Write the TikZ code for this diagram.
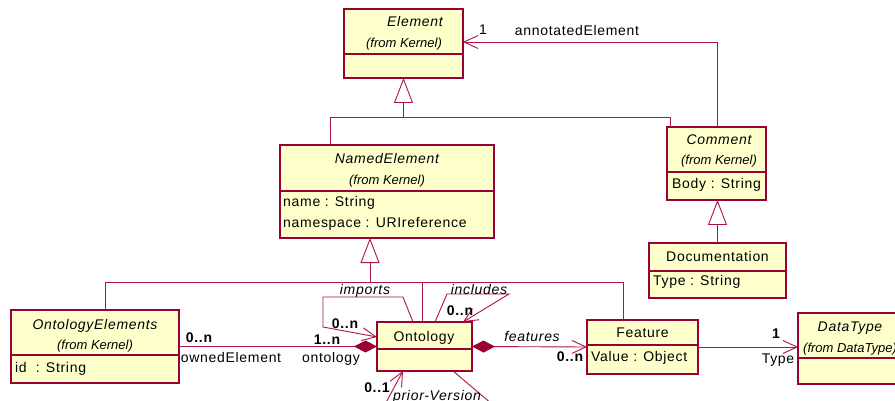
\documentclass[tikz,border=0pt]{standalone}
\usepackage{fontspec}
\setmainfont{Liberation Sans}[LetterSpace=5]
\newfontfamily\tightfont{Liberation Sans}
\usetikzlibrary{arrows.meta,calc}
\definecolor{umlred}{RGB}{153,0,51}
\definecolor{connred}{RGB}{170,20,70}
\definecolor{umlfill}{RGB}{255,255,204}
\tikzset{
  umlbox/.style={draw=umlred, fill=umlfill, line width=1.3pt, inner sep=0pt, outer sep=0pt},
  divline/.style={draw=umlred, line width=1.1pt},
  conn/.style={draw=connred, line width=0.9pt},
  assoc/.style={conn, -{Straight Barb[length=14pt,width=13pt,line width=0.9pt]}},
  gen/.style={conn, -{Triangle[length=25pt,width=19pt,fill=white,line width=0.9pt]}},
  comp/.style={conn, {Diamond[length=23pt,width=12pt,fill=umlred,color=umlred]}-},
  compnav/.style={conn, {Diamond[length=23pt,width=12pt,fill=umlred,color=umlred]}-{Straight Barb[length=14pt,width=13pt,line width=0.9pt]}},
  txt/.style={inner sep=0pt, text height=10pt, text depth=0pt, anchor=center, font=\fontsize{14}{16}\selectfont},
  itxt/.style={txt, font=\fontsize{14}{16}\selectfont\itshape},
  btxt/.style={txt, font=\fontsize{14}{16}\selectfont\bfseries},
  fromtxt/.style={txt, font=\tightfont\fontsize{13}{15}\selectfont\itshape},
  attr/.style={txt, anchor=west},
}
\begin{document}
\begin{tikzpicture}[x=1pt,y=-1pt]
\useasboundingbox (0,0) rectangle (895,401);

% ---------- boxes ----------
\node[umlbox, minimum width=119pt, minimum height=69pt] (elem) at (403.5,43.5) {};
\draw[divline] (elem.west |- 0,54) -- (elem.east |- 0,54);
\node[itxt] (elemname) at (415,22) {Element};
\node[fromtxt] (elemfrom) at (404,43) {(from Kernel)};

\node[umlbox, minimum width=214pt, minimum height=93pt] (named) at (387,191.5) {};
\draw[divline] (named.west |- 0,191) -- (named.east |- 0,191);
\node[itxt] (namedname) at (387,159) {NamedElement};
\node[fromtxt] (namedfrom) at (387,180) {(from Kernel)};
\node[attr] (nameattr) at (283,202) {name : String};
\node[attr] (nsattr) at (283,222) {namespace : URIreference};

\node[umlbox, minimum width=99pt, minimum height=73pt] (comment) at (716.5,163.5) {};
\draw[divline] (comment.west |- 0,172) -- (comment.east |- 0,172);
\node[itxt] (commentname) at (719,140) {Comment};
\node[fromtxt] (commentfrom) at (719,160) {(from Kernel)};
\node[attr] (bodyattr) at (672,184) {Body : String};

\node[umlbox, minimum width=137pt, minimum height=55pt] (doc) at (717.5,270.5) {};
\draw[divline] (doc.west |- 0,271) -- (doc.east |- 0,271);
\node[txt] (docname) at (717.5,256) {Documentation};
\node[attr] (typeattr) at (653,280) {Type : String};

\node[umlbox, minimum width=168pt, minimum height=73pt] (oe) at (95,346.5) {};
\draw[divline] (oe.west |- 0,355) -- (oe.east |- 0,355);
\node[itxt] (oename) at (95,324) {OntologyElements};
\node[fromtxt] (oefrom) at (95,344) {(from Kernel)};
\node[attr] (idattr) at (15,367) {id\ \ : String};

\node[umlbox, minimum width=95pt, minimum height=49pt] (onto) at (424.5,346.5) {};
\draw[divline] (onto.west |- 0,349) -- (onto.east |- 0,349);
\node[txt] (ontoname) at (424,336) {Ontology};

\node[umlbox, minimum width=111pt, minimum height=54pt] (feature) at (642.5,347) {};
\draw[divline] (feature.west |- 0,345) -- (feature.east |- 0,345);
\node[txt] (featname) at (642.5,332) {Feature};
\node[attr] (valattr) at (591,356) {Value : Object};

\node[umlbox, minimum width=104pt, minimum height=71pt] (dt) at (850,348.5) {};
\draw[divline] (dt.west |- 0,358) -- (dt.east |- 0,358);
\node[itxt] (dtname) at (850,326) {DataType};
\node[fromtxt] (dtfrom) at (850,347) {(from DataType)};

% ---------- generalisations ----------
\coordinate (j1) at (403.5,117);
\draw[conn] (named.north -| 330,0) |- (j1);
\draw[conn] (comment.north -| 670,0) |- (j1);
\draw[gen] (j1) -- (elem.south);

\coordinate (j2) at (370,282);
\draw[conn] (oe.north -| 105,0) |- (j2);
\draw[conn] (onto.north -| 422,0) |- (j2);
\draw[conn] (feature.north -| 623,0) |- (j2);
\draw[gen] (j2) -- (named.south -| j2);

\draw[gen] (doc.north) -- (doc.north |- comment.south);

% ---------- associations ----------
\draw[assoc] (comment.north -| 717,0) |- (elem.east |- 0,42);
\node[txt] (one1) at (483,30) {1};
\node[txt] (annot) at (577,31) {annotatedElement};

\draw[comp] (onto.west) -- (oe.east);
\node[btxt] (m1) at (199,337) {0..n};
\node[txt] (owned) at (231,357) {ownedElement};
\node[btxt] (m2) at (327,339) {1..n};
\node[txt] (ontolab) at (331,357) {ontology};

\draw[compnav] (onto.east) -- (feature.west);
\node[itxt] (featlab) at (532,336) {features};
\node[btxt] (m3) at (570,356) {0..n};

\draw[assoc] (feature.east) -- (feature.east -| dt.west);
\node[btxt] (m4) at (776,333) {1};
\node[txt] (typelab) at (778,358) {Type};

% imports loop
\coordinate (i1) at (403,297);
\coordinate (i2) at (323,297);
\coordinate (i3) at (323,327);
\draw[assoc] (onto.north -| 413,0) -- (i1) -- (i2) -- (i3) -- (onto.west |- 0,337);
\node[itxt] (implab) at (365,289) {imports};
\node[btxt] (m5) at (345,323) {0..n};

% includes loop
\coordinate (c1) at (447,294);
\coordinate (c2) at (509,294);
\draw[assoc] (onto.north -| 435,0) -- (c1) -- (c2) -- (onto.north -| 463,0);
\node[itxt] (inclab) at (479,289) {includes};
\node[btxt] (m6) at (460,310) {0..n};

% prior-Version loop (continues below the picture)
\coordinate (p1) at (382,410);
\coordinate (p2) at (499,410);
\draw[assoc] (p1) -- (onto.south -| 403,0);
\draw[conn] (onto.south -| 453,0) -- (p2);
\node[btxt] (m7) at (377,387) {0..1};
\node[itxt] (priorlab) at (437,395) {prior-Version};
\end{tikzpicture}
\end{document}
